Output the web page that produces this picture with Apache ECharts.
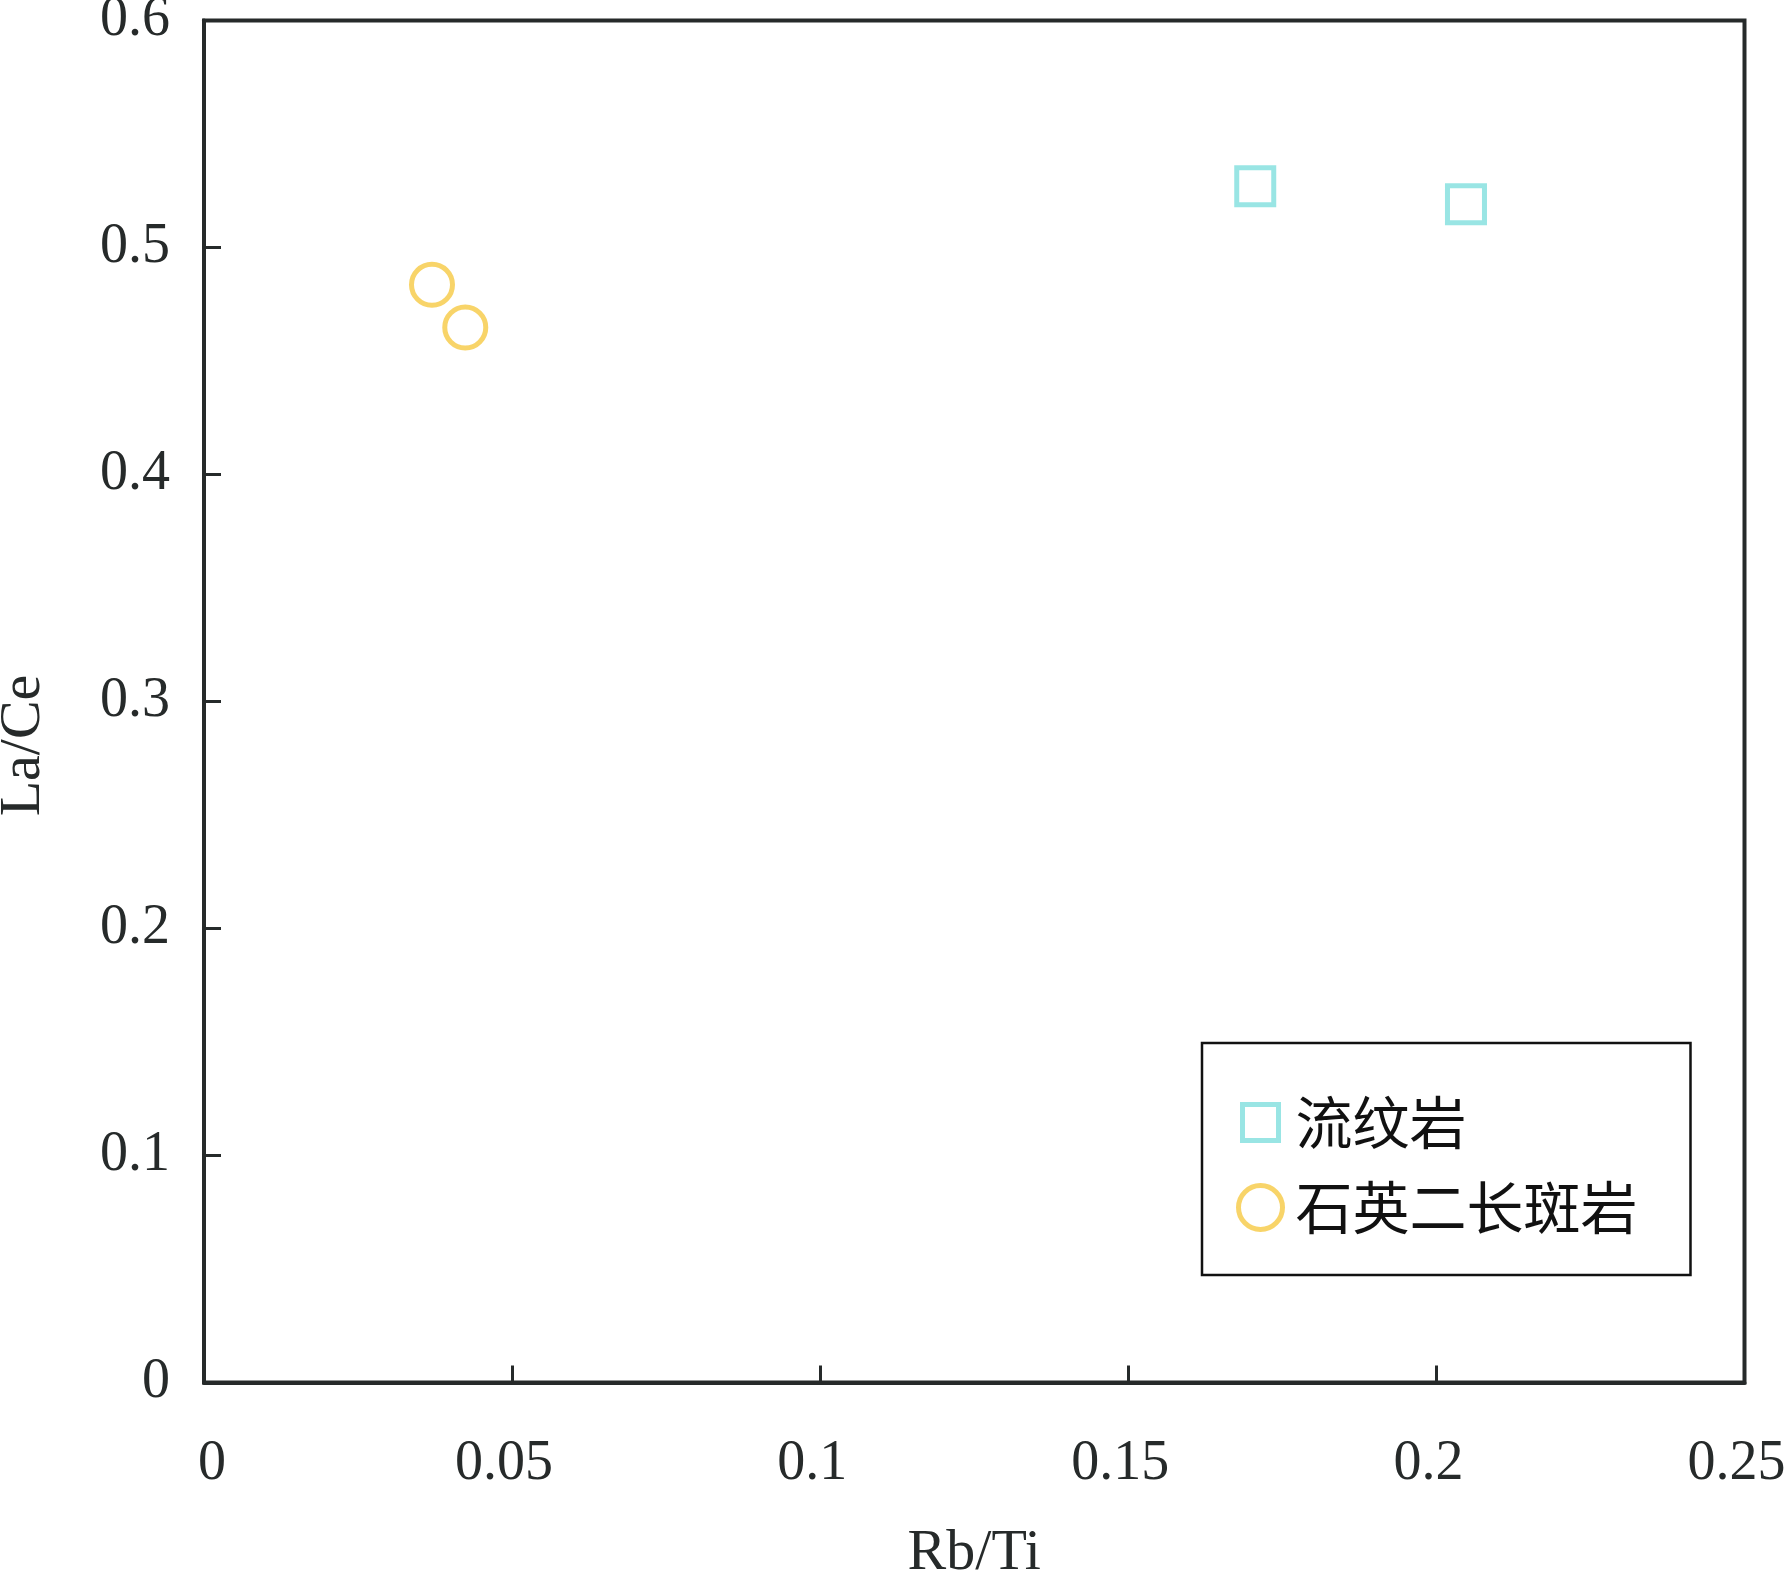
<!DOCTYPE html>
<html>
<head>
<meta charset="utf-8">
<script src="https://cdn.jsdelivr.net/npm/echarts@6/dist/echarts.min.js"></script>
<style>
html,body{margin:0;padding:0;background:#fff;}
#main{width:1785px;height:1572px;}
</style>
</head>
<body>
<div id="main"></div>
<script>
// Data
const seriesNames = ['流纹岩', '石英二长斑岩'];
const rhyoliteRbTi = [0.1706, 0.2048];
const rhyoliteLaCe = [0.527, 0.519];
const porphyryRbTi = [0.0370, 0.0424];
const porphyryLaCe = [0.4836, 0.4648];
const xTicks = [0, 0.05, 0.1, 0.15, 0.2, 0.25];
const yTicks = [0, 0.1, 0.2, 0.3, 0.4, 0.5, 0.6];

const cyan = '#7fdedd';
const gold = '#f6c944';
const ink = '#262a2a';
const serif = '"Liberation Serif", "Times New Roman", serif';

function pairs(xs, ys) { return xs.map((x, i) => [x, ys[i]]); }

const chart = echarts.init(document.getElementById('main'), null, {renderer: 'canvas'});
chart.setOption({
  backgroundColor: '#ffffff',
  animation: false,
  grid: {
    left: 204, top: 20.5, right: 40.5, bottom: 189.5,
    containLabel: false, outerBoundsMode: 'none',
    show: true, borderColor: ink, borderWidth: 4, backgroundColor: 'transparent'
  },
  xAxis: {
    type: 'value',
    min: xTicks[0], max: xTicks[xTicks.length - 1], interval: 0.05,
    name: 'Rb/Ti', nameLocation: 'middle', nameGap: 142,
    nameTextStyle: {fontFamily: serif, fontSize: 58, color: ink},
    axisLine: {show: true, onZero: false, lineStyle: {color: ink, width: 4}},
    axisTick: {show: true, inside: true, length: 17, lineStyle: {color: ink, width: 3}},
    axisLabel: {
      fontFamily: serif, fontSize: 56, color: ink, margin: 54,
      padding: [0, 16, 0, 0],
      formatter: v => (v === 0 ? '{z|0}' : String(+v.toFixed(2))),
      rich: {z: {fontFamily: serif, fontSize: 56, color: ink, padding: [0, 0, 0, 32]}}
    },
    splitLine: {show: false}
  },
  yAxis: {
    type: 'value',
    min: yTicks[0], max: yTicks[yTicks.length - 1], interval: 0.1,
    name: 'La/Ce', nameLocation: 'middle', nameGap: 151, nameRotate: 90,
    nameTextStyle: {fontFamily: serif, fontSize: 58, color: ink, padding: [0, 88, 0, 0]},
    axisLine: {show: true, onZero: false, lineStyle: {color: ink, width: 4}},
    axisTick: {show: true, inside: true, length: 17, lineStyle: {color: ink, width: 3}},
    axisLabel: {
      fontFamily: serif, fontSize: 56, color: ink, margin: 34,
      formatter: v => String(+v.toFixed(1))
    },
    splitLine: {show: false}
  },
  legend: {
    orient: 'vertical',
    left: 1202, top: 1043,
    padding: [51, 53, 39, 34],
    borderColor: '#111', borderWidth: 2.5,
    itemWidth: 44, itemHeight: 44, itemGap: 28,
    textStyle: {fontFamily: '"Noto Sans CJK SC", sans-serif', fontSize: 57, lineHeight: 44, color: '#111', padding: [0, 0, 0, 8]},
    data: [
      {name: seriesNames[0], icon: 'path://M0,0M44,44M4,4L40,4L40,40L4,40Z', itemStyle: {color: 'transparent', borderColor: cyan, borderWidth: 5}},
      {name: seriesNames[1], icon: 'circle', itemStyle: {color: 'transparent', borderColor: gold, borderWidth: 5}}
    ]
  },
  series: [
    {
      name: seriesNames[0], type: 'scatter', symbol: 'rect', symbolSize: 37,
      itemStyle: {color: 'transparent', borderColor: cyan, borderWidth: 5},
      data: pairs(rhyoliteRbTi, rhyoliteLaCe)
    },
    {
      name: seriesNames[1], type: 'scatter', symbol: 'circle', symbolSize: 41,
      itemStyle: {color: 'transparent', borderColor: gold, borderWidth: 5},
      data: pairs(porphyryRbTi, porphyryLaCe)
    }
  ]
});
</script>
</body>
</html>
